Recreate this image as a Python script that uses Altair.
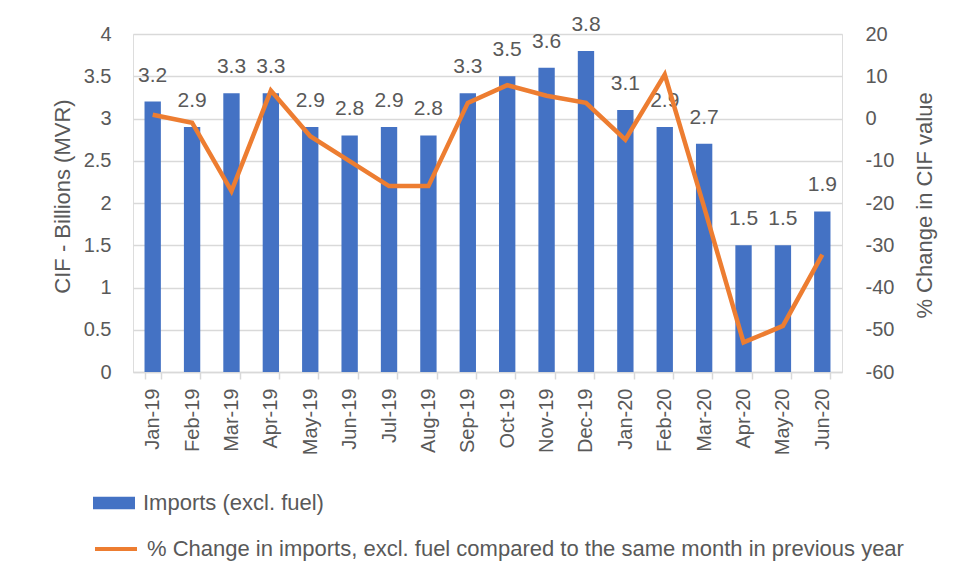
import altair as alt
import pandas as pd

months = ["Jan-19", "Feb-19", "Mar-19", "Apr-19", "May-19", "Jun-19", "Jul-19", "Aug-19",
          "Sep-19", "Oct-19", "Nov-19", "Dec-19", "Jan-20", "Feb-20", "Mar-20", "Apr-20",
          "May-20", "Jun-20"]
imports = [3.2, 2.9, 3.3, 3.3, 2.9, 2.8, 2.9, 2.8, 3.3, 3.5, 3.6, 3.8, 3.1, 2.9, 2.7, 1.5, 1.5, 1.9]
pct_change = [0.9, -1.0, -17.2, 6.6, -4.2, -10.1, -16.0, -16.0, 3.7, 7.9, 5.4, 3.7,
              -5.0, 10.4, -21.0, -53.0, -49.1, -32.2]
left_ticks = [0, 0.5, 1, 1.5, 2, 2.5, 3, 3.5, 4]
right_ticks = [-60, -50, -40, -30, -20, -10, 0, 10, 20]

bar_name = "Imports (excl. fuel)"
line_name = "% Change in imports, excl. fuel compared to the same month in previous year"

df = pd.DataFrame({"Month": months, "Imports": imports, "Change": pct_change,
                   "bar_series": bar_name, "line_series": line_name})

FONT = "Liberation Sans"
GREY = "#595959"
GRID = "#D9D9D9"

x_enc = alt.X("Month:N", sort=months,
              scale=alt.Scale(paddingInner=0.585, paddingOuter=0.2925),
              axis=alt.Axis(title=None, labelAngle=-90, labelFontSize=20, labelColor=GREY,
                            labelFont=FONT, domainColor=GRID, domainWidth=1.5,
                            tickColor=GRID, tickWidth=1.5, tickSize=7, tickBand="extent",
                            labelPadding=9, grid=False))

base = alt.Chart(df)

bars = base.mark_bar(width={"band": 1}).encode(
    x=x_enc,
    y=alt.Y("Imports:Q", scale=alt.Scale(domain=[0, 4], nice=False),
            axis=alt.Axis(values=left_ticks, title="CIF - Billions (MVR)", labelFontSize=20,
                          labelExpr="'' + datum.value",
                          labelColor=GREY, labelFont=FONT, labelPadding=22, ticks=False,
                          domain=False, grid=True, gridColor=GRID, gridWidth=1.5,
                          titleFontSize=22, titleFont=FONT, titleColor=GREY,
                          titleFontWeight="normal", titleAngle=-90, titleX=-71, titleY=162,
                          titleAlign="center", titleBaseline="middle")),
    color=alt.Color("bar_series:N", scale=alt.Scale(domain=[bar_name], range=["#4472C4"]),
                    legend=alt.Legend(title=None, orient="none", legendX=-40, legendY=448,
                                      symbolType="M-1,-0.3H1V0.3H-1Z", symbolSize=1764,
                                      symbolStrokeWidth=0, labelFontSize=22, labelFont=FONT,
                                      labelColor=GREY, labelOffset=8, labelLimit=0)),
)

labels = base.mark_text(fontSize=21, font=FONT, color=GREY, baseline="middle", dy=-26).encode(
    x=alt.X("Month:N", sort=months),
    y=alt.Y("Imports:Q"),
    text=alt.Text("Imports:Q", format=".1f"),
)

bar_layer = alt.layer(bars, labels)

line = base.mark_line(strokeWidth=4.5, strokeJoin="miter", strokeCap="butt").encode(
    x=alt.X("Month:N", sort=months),
    y=alt.Y("Change:Q", scale=alt.Scale(domain=[-60, 20], nice=False),
            axis=alt.Axis(orient="right", values=right_ticks, title="% Change in CIF value",
                          labelExpr="'' + datum.value",
                          labelFontSize=20, labelColor=GREY, labelFont=FONT, labelPadding=23,
                          ticks=False, domain=False, grid=False, titleFontSize=22,
                          titleFont=FONT, titleColor=GREY, titleFontWeight="normal",
                          titleAngle=-90, titleX=82, titleY=171, titleAlign="center",
                          titleBaseline="middle")),
    stroke=alt.Stroke("line_series:N", scale=alt.Scale(domain=[line_name], range=["#ED7D31"]),
                      legend=alt.Legend(title=None, orient="none", legendX=-40, legendY=492,
                                        symbolType="stroke", symbolSize=1764,
                                        symbolStrokeWidth=4, labelFontSize=22, labelFont=FONT,
                                        labelColor=GREY, labelOffset=8, labelLimit=0)),
)

border_left = alt.Chart(df).mark_rule(color="#D0D0D0", strokeWidth=2).encode(
    x=alt.value(-127), y=alt.value(-28), y2=alt.value(560))
border_top = alt.Chart(df).mark_rule(color="#D0D0D0", strokeWidth=2).encode(
    x=alt.value(-127), x2=alt.value(830), y=alt.value(-28))

chart = alt.layer(bar_layer, line, border_left, border_top).resolve_scale(
    y="independent", color="independent", stroke="independent"
).properties(
    width=709, height=338,
    autosize=alt.AutoSizeParams(type="none"),
    padding={"left": 125, "top": 26, "right": 109, "bottom": 190},
).configure_view(stroke=None).configure(background="white")

chart.save("out.html", embed_options={"renderer": "svg", "actions": False})
